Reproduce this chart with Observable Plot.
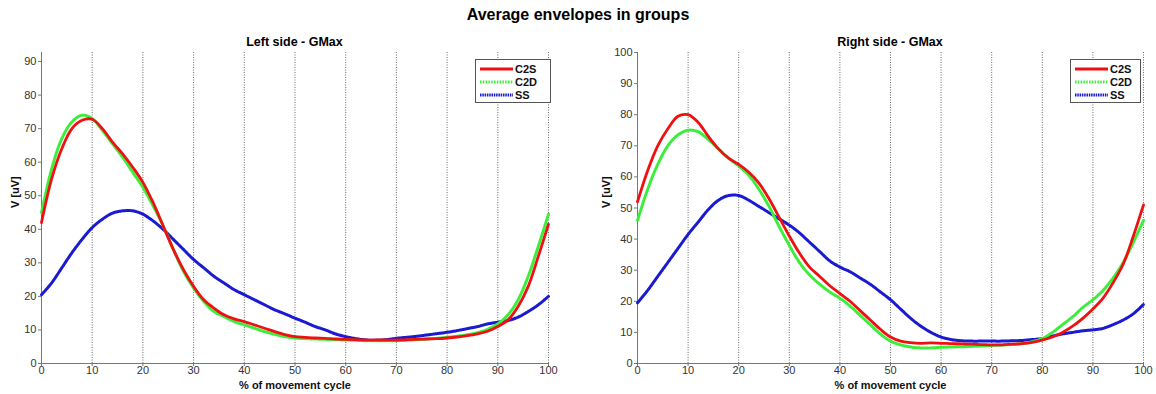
<!DOCTYPE html>
<html><head><meta charset="utf-8">
<script src="https://cdn.jsdelivr.net/npm/d3@7"></script>
<script src="https://cdn.jsdelivr.net/npm/@observablehq/plot@0.6"></script>
<style>
body{margin:0;background:#fff;}
#wrap{position:relative;width:1156px;height:394px;font-family:"Liberation Sans",Arial,sans-serif;color:#000;overflow:hidden}
.t{position:absolute;text-align:center;font-weight:bold;white-space:nowrap;line-height:1}
.panel{position:absolute;top:28px}
.legend{position:absolute;background:#fff;border:1px solid #555;box-sizing:border-box;font-weight:bold;font-size:11px;padding:2px 2px 1px 4px;color:#111}
.legend div{display:flex;align-items:center;height:13px}
.legend svg{margin-right:2px}
</style></head>
<body><div id="wrap"></div>
<script>
const title = "Average envelopes in groups";
const panelTitles = ["Left side - GMax", "Right side - GMax"];
const xLabel = "% of movement cycle";
const yLabel = "V [uV]";
const seriesNames = ["C2S", "C2D", "SS"];
const seriesColors = ["#ee1111", "#3cee3c", "#1a1ad0"];
const seriesDash = [null, "1.5,1.3", "1.5,0.8"];
const xs = d3.range(0, 101, 2);
const xTicks = [0,10,20,30,40,50,60,70,80,90,100];
const yMax = [92.7, 100];
const yTicksLeft = [0,10,20,30,40,50,60,70,80,90];
const yTicksRight = [0,10,20,30,40,50,60,70,80,90,100];

const leftC2S = [42,55,64,70,72.5,72.8,70,66,62.5,58.5,54,48,41,34,28,23,19,16.5,14.5,13.3,12.5,11.5,10.5,9.5,8.6,8,7.8,7.6,7.5,7.3,7.2,7.1,7,7,7,7,7.1,7.2,7.3,7.4,7.6,7.9,8.3,8.8,9.6,11,13,17,23,32,41.5];
const leftC2D = [45,58,67,72,74,73,69.5,65.5,61.5,57,52.5,47,41,34,27.5,22.5,18.5,15.5,14,12.5,11.5,10.5,9.5,8.7,8,7.6,7.4,7.3,7.2,7.1,7,6.9,6.8,6.8,6.8,6.8,6.9,7.1,7.3,7.5,7.8,8.1,8.6,9.2,10.2,11.8,14.5,19,26,35,44.5];
const leftSS = [20.5,24,28.5,33,37,40.5,43,44.8,45.5,45.5,44.5,42.5,40,37,34,31,28.5,26,24,22,20.5,19,17.5,16,14.8,13.5,12.3,11,10,8.8,8,7.4,7,6.9,7.1,7.5,7.8,8.1,8.5,8.9,9.3,9.8,10.4,11,11.8,12.3,12.8,13.8,15.5,17.5,20];
const rightC2S = [52,62,70,75.5,79.5,80,77.5,73,69,66,64,61.5,58,53,47,41,35.5,31,28,25,22.5,20,17,14,11,8.5,7.2,6.7,6.5,6.6,6.5,6.4,6.3,6.2,6.1,6,6,6.2,6.4,6.8,7.5,8.5,10,12,14.5,17.5,21,26,32,41,51];
const rightC2D = [46,56,64,70,73.5,75,74.5,72,69,66,63.5,60.5,56,50.5,44,38,32.5,28.5,25.5,23,21,18.5,15.5,12.5,9.5,7.2,6,5.3,5,5,5.2,5.3,5.4,5.5,5.6,5.8,5.9,6.1,6.4,7,8,10,12.5,15,18,20.5,23.5,27.5,32.5,39,46];
const rightSS = [19.5,23.5,28,32.5,37,41.5,45.5,49.5,52.5,54,54,52.5,50.5,48.5,46.5,44.5,42,39,36,33,31,29.5,27.5,25.5,23,20.5,17.5,14.5,12,10,8.5,7.7,7.3,7.2,7.2,7.2,7.2,7.3,7.4,7.7,8,8.8,9.5,10,10.5,10.8,11.3,12.5,14,16,19];

const panels = [
  {series: [leftC2S, leftC2D, leftSS], yTicks: yTicksLeft, left: 0, width: 578, mL: 41, mR: 30, yLabelDx: -26, legendLeft: 475, legendW: 76},
  {series: [rightC2S, rightC2D, rightSS], yTicks: yTicksRight, left: 578, width: 578, mL: 59, mR: 13, yLabelDx: -31, legendLeft: 1070, legendW: 71}
];

const wrap = document.getElementById("wrap");
const tt = document.createElement("div");
tt.className = "t"; tt.textContent = title;
Object.assign(tt.style, {left: "0px", width: "1156px", top: "7px", fontSize: "16px"});
wrap.appendChild(tt);

panels.forEach((p, i) => {
  const data = [];
  p.series.forEach((vals, s) => vals.forEach((v, k) => data.push({x: xs[k], y: v, s: seriesNames[s]})));
  const marks = [
    Plot.ruleX(xTicks.filter(d => d > 0), {stroke: "#444", strokeWidth: 0.8, strokeDasharray: "1,1.5"}),
    Plot.ruleY([0], {stroke: "#777"}),
    Plot.ruleX([0], {stroke: "#777"}),
    Plot.axisX({ticks: xTicks, tickSize: 3, tickPadding: 0, fontSize: 11, fill: "#333", stroke: "#777", label: null}),
    Plot.axisY({ticks: p.yTicks, tickSize: 3, tickPadding: 2, fontSize: 11, fill: "#333", stroke: "#777", label: null}),
    Plot.text([xLabel], {frameAnchor: "bottom", lineAnchor: "middle", dy: 22, fontWeight: "bold", fontSize: 11, fill: "#111"}),
    Plot.text([yLabel], {frameAnchor: "left", dx: p.yLabelDx, rotate: -90, fontWeight: "bold", fontSize: 11, fill: "#111"})
  ];
  [2, 1, 0].forEach(s => {
    marks.push(Plot.line(data.filter(d => d.s === seriesNames[s]), {
      x: "x", y: "y", stroke: seriesColors[s], strokeWidth: s === 0 ? 2.8 : 3,
      strokeDasharray: seriesDash[s], curve: "catmull-rom"
    }));
  });
  const chart = Plot.plot({
    width: p.width, height: 366,
    marginLeft: p.mL, marginRight: p.mR, marginTop: 24, marginBottom: 31,
    style: {fontFamily: "'Liberation Sans', Arial, sans-serif", background: "transparent", overflow: "visible"},
    x: {domain: [0, 100]},
    y: {domain: [0, yMax[i]]},
    marks
  });
  chart.classList.add("panel");
  chart.style.left = p.left + "px";
  wrap.appendChild(chart);

  const st = document.createElement("div");
  st.className = "t"; st.textContent = panelTitles[i];
  const plotL = p.left + p.mL, plotR = p.left + p.width - p.mR;
  Object.assign(st.style, {left: plotL + "px", width: (plotR - plotL) + "px", top: "36px", fontSize: "12.5px"});
  wrap.appendChild(st);

  const lg = document.createElement("div");
  lg.className = "legend";
  Object.assign(lg.style, {left: p.legendLeft + "px", top: "59px", width: p.legendW + "px", height: "44px"});
  seriesNames.forEach((n, s) => {
    const row = document.createElement("div");
    const dash = seriesDash[s] ? `stroke-dasharray="${seriesDash[s]}"` : "";
    row.innerHTML = `<svg width="33" height="6"><line x1="0" y1="3" x2="33" y2="3" stroke="${seriesColors[s]}" stroke-width="${s === 0 ? 2.8 : 3}" ${dash}/></svg><span>${n}</span>`;
    lg.appendChild(row);
  });
  wrap.appendChild(lg);
});
</script></body></html>
